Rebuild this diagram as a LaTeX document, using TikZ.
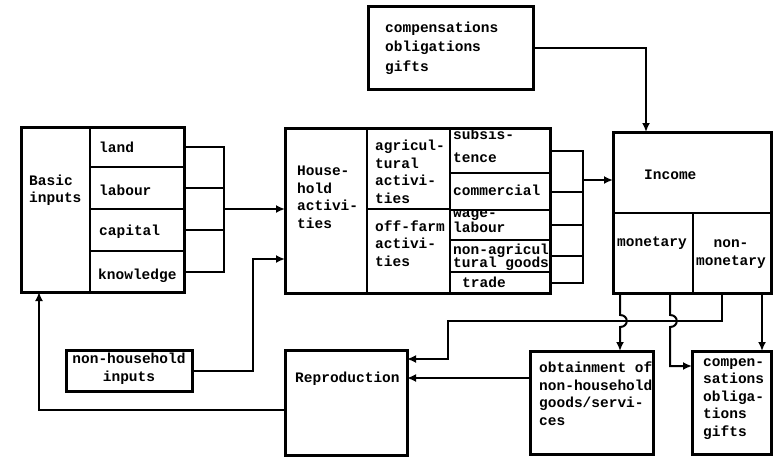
\documentclass[tikz,border=0pt]{standalone}
\usepackage{fontspec}
\newfontfamily\tw{Liberation Mono}
\usetikzlibrary{arrows.meta}
\begin{document}
\begin{tikzpicture}[x=1pt,y=-1pt,
  cell/.style={draw, line width=2pt, anchor=north west, inner sep=0pt, outer sep=0pt},
  bbox/.style={draw, line width=3pt, anchor=north west, inner sep=0pt, outer sep=0pt},
  frame/.style={draw, line width=3pt},
  txt/.style={inner sep=0pt, anchor=base west, align=left, font=\tw\bfseries\fontsize{14.5}{17.5}\selectfont},
  conn/.style={line width=2pt},
  arr/.style={line width=2pt, -{Latex[length=9pt,width=8pt]}},
]
\useasboundingbox[fill=white] (0,0) rectangle (773,458);

% ---------- Basic inputs ----------
\node[cell, minimum width=69pt, minimum height=165pt] (bi) at (21,127) {};
\node[cell, minimum width=94pt, minimum height=40pt] (land) at (90,127) {};
\node[cell, minimum width=94pt, minimum height=42pt] (labour) at (90,167) {};
\node[cell, minimum width=94pt, minimum height=42pt] (capital) at (90,209) {};
\node[cell, minimum width=94pt, minimum height=41pt] (know) at (90,251) {};
\draw[frame] (bi.north west) rectangle (know.south east);
\node[txt] (tbi) at (29,202) {Basic\\[-1pt]inputs};
\node[txt] (tland) at (99,152) {land};
\node[txt] (tlabour) at (99,195) {labour};
\node[txt] (tcapital) at (99,235) {capital};
\node[txt] (tknow) at (98,279) {knowledge};

% ---------- Household activities ----------
\node[cell, minimum width=82pt, minimum height=165pt] (hh) at (285,128) {};
\node[cell, minimum width=83pt, minimum height=81pt] (agr) at (367,128) {};
\node[cell, minimum width=83pt, minimum height=84pt] (off) at (367,209) {};
\node[cell, minimum width=100pt, minimum height=45pt] (subs) at (450,128) {};
\node[cell, minimum width=100pt, minimum height=37pt] (comm) at (450,173) {};
\node[cell, minimum width=100pt, minimum height=30pt] (wage) at (450,210) {};
\node[cell, minimum width=100pt, minimum height=32pt] (nonag) at (450,240) {};
\node[cell, minimum width=100pt, minimum height=21pt] (trade) at (450,272) {};
\draw[frame] (hh.north west) rectangle (trade.south east);
\node[txt] (thh) at (297,228) {House-\\hold\\activi-\\ties};
\node[txt] (tagr) at (375,203) {agricul-\\tural\\activi-\\ties};
\node[txt] (toff) at (375,266) {off-farm\\activi-\\ties};
\node[txt] (tsubs) at (453,162) {subsis-\\[5pt]tence};
\node[txt] (tcomm) at (453,195) {commercial};
\node[txt] (twage) at (453,232) {wage-\\[-2.5pt]labour};
\node[txt] (tnonag) at (453,267) {non-agricul\\[-4.5pt]tural goods};
\node[txt] (ttrade) at (462,287) {trade};

% ---------- Income ----------
\node[cell, minimum width=158pt, minimum height=81pt] (inc) at (613,132) {};
\node[cell, minimum width=80pt, minimum height=80pt] (mon) at (613,213) {};
\node[cell, minimum width=78pt, minimum height=80pt] (nonmon) at (693,213) {};
\draw[frame] (inc.north west) rectangle (nonmon.south east);
\node[txt] (tinc) at (644,179) {Income};
\node[txt] (tmon) at (617,246) {monetary};
\node[txt, anchor=base, align=center] (tnonmon) at (731,265) {non-\\monetary};

% ---------- Other boxes ----------
\node[bbox, minimum width=165pt, minimum height=83pt] (tcomp) at (368,6) {};
\node[txt] (ttcomp) at (385,71) {compensations\\[2pt]obligations\\[2pt]gifts};

\node[bbox, minimum width=126pt, minimum height=41pt] (nhi) at (66,350) {};
\node[txt, anchor=base, align=center] (tnhi) at (129,381) {non-household\\inputs};

\node[bbox, minimum width=122pt, minimum height=105pt] (repro) at (285,350) {};
\node[txt] (trepro) at (295,382) {Reproduction};

\node[bbox, minimum width=123pt, minimum height=103pt] (obt) at (530,351) {};
\node[txt] (tobt) at (539,425) {obtainment of\\non-household\\goods/servi-\\ces};

\node[bbox, minimum width=79pt, minimum height=103pt] (cbot) at (692,351) {};
\node[txt] (tcbot) at (703,436) {compen-\\sations\\obliga-\\tions\\gifts};

% ---------- Connectors ----------
\coordinate (bk) at (224,209);
\draw[conn] (land.east) -- (land.east -| bk) -- (know.east -| bk) -- (know.east);
\draw[conn] (labour.east) -- (labour.east -| bk);
\draw[conn] (capital.east) -- (capital.east -| bk);
\draw[arr] (bk) -- (bk -| hh.west);

\coordinate (hk) at (583,180);
\draw[conn] (subs.east) -- (subs.east -| hk) -- (trade.east -| hk) -- (trade.east);
\draw[conn] (comm.east) -- (comm.east -| hk);
\draw[conn] (wage.east) -- (wage.east -| hk);
\draw[conn] (nonag.east) -- (nonag.east -| hk);
\draw[arr] (hk) -- (hk -| inc.west);

\coordinate (c1) at (646,47.5);
\draw[arr] (tcomp.east) -| (c1 |- inc.north);

\coordinate (c2) at (253,259);
\draw[arr] (nhi.east) -| (c2) -- (c2 -| hh.west);

\coordinate (c3) at (39,410);
\draw[arr] (repro.west |- c3) -- (c3) -- (c3 |- bi.south);

\coordinate (d1) at (722,321);
\coordinate (d2) at (448,359);
\draw[arr] (nonmon.south -| d1) -- (d1) -- (d1 -| d2) -- (d2) -- (d2 -| repro.east);

\coordinate (e1) at (620,321);
\draw[arr] (mon.south -| e1) -- ([yshift=6pt]e1)
  .. controls +(9,0) and +(9,0) .. ([yshift=-6pt]e1) -- (e1 |- obt.north);

\coordinate (f1) at (670,321);
\coordinate (f2) at (670,366);
\draw[arr] (mon.south -| f1) -- ([yshift=6pt]f1)
  .. controls +(9,0) and +(9,0) .. ([yshift=-6pt]f1) -- (f2) -- (f2 -| cbot.west);

\coordinate (g1) at (762,300);
\draw[arr] (nonmon.south -| g1) -- (g1 |- cbot.north);

\coordinate (h1) at (530,378);
\draw[arr] (h1) -- (h1 -| repro.east);
\end{tikzpicture}
\end{document}
